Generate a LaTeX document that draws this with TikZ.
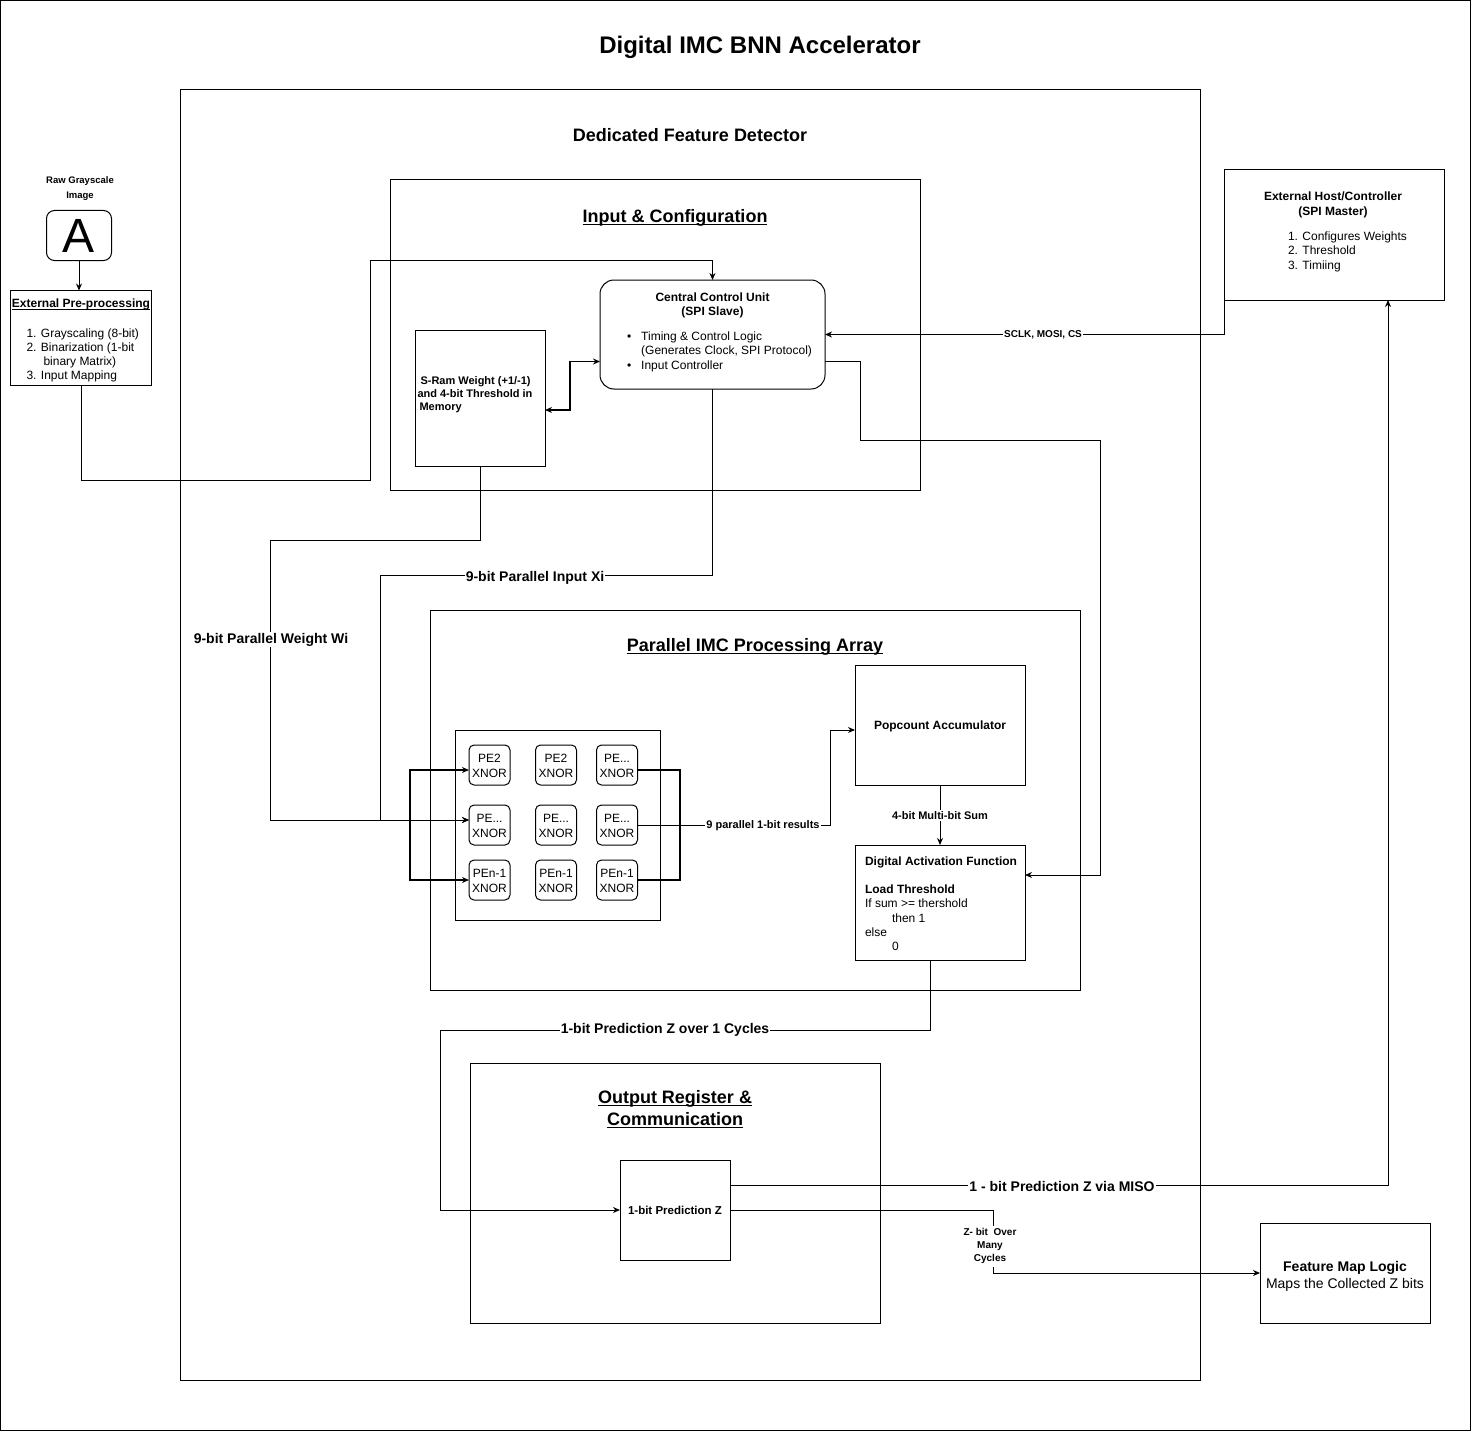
\documentclass[tikz,border=0pt]{standalone}
\usepackage{fontspec}
\setmainfont{Liberation Sans}
\usetikzlibrary{arrows.meta}
\newcommand{\fz}[2]{\fontsize{#1}{#2}\selectfont}
\newcommand{\tl}[1]{\begin{tabular}[t]{@{}l@{}}#1\end{tabular}}
\newcommand{\tc}[1]{\begin{tabular}[t]{@{}c@{}}#1\end{tabular}}
\newcommand{\pet}[1]{\raisebox{-2pt}[\height][\depth]{\tc{#1}}}
\newcommand{\myul}[1]{\setbox0=\hbox{#1}\rlap{\rule[-0.16em]{\wd0}{0.075em}}\box0}
\begin{document}
\begin{tikzpicture}[x=1pt,y=-1pt,
  font=\fz{12}{14.4},
  every node/.style={inner sep=0pt, outer sep=0pt},
  box/.style={draw, line width=1pt, anchor=north west},
  rbox/.style={box, rounded corners=#1},
  pe/.style={draw, line width=1pt, rounded corners=5pt, minimum width=41pt, minimum height=40pt, font=\fz{12}{15}},
  tip/.style={-{Stealth[length=7pt,width=6pt]}},
  arr/.style={line width=1pt, tip},
  conn/.style={line width=1pt},
  thk/.style={line width=2pt},
  lbl/.style={fill=white, font=\bfseries\fz{14}{16.8}, inner xsep=1pt, inner ysep=1pt},
  lblm/.style={lbl, font=\bfseries\fz{11}{13.2}},
  lbls/.style={lbl, font=\bfseries\fz{10}{13}}]
\useasboundingbox (0,0) rectangle (1471,1431);
\node[box, minimum width=1470pt, minimum height=1430pt] (frame) at (0.5,0.5) {};
\node[anchor=base, font=\bfseries\fz{24}{28.8}] (title) at (760,53.6) {Digital IMC BNN Accelerator};

% Dedicated feature detector
\node[box, minimum width=1020pt, minimum height=1290pt] (dfd) at (180,90) {};
\node[anchor=base, font=\bfseries\fz{18}{21.6}] (dfdt) at (690,141.4) {Dedicated Feature Detector};

% Input & configuration
\node[box, minimum width=530pt, minimum height=310pt] (inc) at (390,180) {};
\node[anchor=base, font=\bfseries\fz{18}{21.6}] (inct) at (675,222.4) {\myul{Input \& Configuration}};
\node[rbox=14pt, minimum width=225pt, minimum height=109pt] (ccu) at (600,280) {};
\node[anchor=base, font=\bfseries\fz{12}{14.7}] (ccut) at (712.5,301) {\tc{Central Control Unit\\(SPI Slave)}};
\node[anchor=base west, font=\fz{12}{14.5}] (ccub) at (627,340.3) {\begin{tabular}[t]{@{}l@{\hspace{10pt}}l@{}}\textbullet & Timing \& Control Logic\\ & (Generates Clock, SPI Protocol)\\ \textbullet & Input Controller\end{tabular}};
\node[box, minimum width=130pt, minimum height=136pt] (sram) at (415,330) {};
\node[anchor=base west, font=\bfseries\fz{11}{13.3}] (sramt) at (417.5,384) {\tl{\hspace*{3pt}S-Ram Weight (+1/-1)\\and 4-bit Threshold in\\\hspace*{2pt}Memory}};

% Raw image and pre-processing
\node[anchor=base, font=\bfseries\fz{9.5}{15}] (rawt) at (80,183.4) {\tc{Raw Grayscale\\Image}};
\node[rbox=8pt, minimum width=65pt, minimum height=50pt, font=\fz{48}{50}] (abox) at (46.5,210.5) {A};
\node[box, minimum width=141pt, minimum height=95pt] (pre) at (10.5,290.5) {};
\node[anchor=base, font=\bfseries\fz{12}{14.4}] (pret) at (81,307.6) {\myul{External Pre-processing}};
\node[anchor=base west, font=\fz{12}{14}] (prel) at (26.5,337.6) {\tl{1. Grayscaling (8-bit)\\2. Binarization (1-bit\\\hspace*{17pt}binary Matrix)\\3. Input Mapping}};

% External host
\node[box, minimum width=220pt, minimum height=130pt] (host) at (1224,170) {};
\node[anchor=base, font=\bfseries\fz{12}{15}] (hostt) at (1333,201) {\tc{External Host/Controller\\(SPI Master)}};
\node[anchor=base west, font=\fz{12}{14.5}] (hostl) at (1288,240.3) {\tl{1. Configures Weights\\2. Threshold\\3. Timiing}};

% Parallel IMC processing array
\node[box, minimum width=650pt, minimum height=380pt] (pipa) at (430,610) {};
\node[anchor=base, font=\bfseries\fz{18}{21.6}] (pipat) at (755,651.4) {\myul{Parallel IMC Processing Array}};
\node[box, minimum width=205pt, minimum height=190pt] (pec) at (455,730) {};
\node[pe] (pe11) at (489.5,765) {\pet{PE2\\XNOR}};
\node[pe] (pe12) at (556,765) {\pet{PE2\\XNOR}};
\node[pe] (pe13) at (617,765) {\pet{PE...\\XNOR}};
\node[pe] (pe21) at (489.5,825) {\pet{PE...\\XNOR}};
\node[pe] (pe22) at (556,825) {\pet{PE...\\XNOR}};
\node[pe] (pe23) at (617,825) {\pet{PE...\\XNOR}};
\node[pe] (pe31) at (489.5,880) {\pet{PEn-1\\XNOR}};
\node[pe] (pe32) at (556,880) {\pet{PEn-1\\XNOR}};
\node[pe] (pe33) at (617,880) {\pet{PEn-1\\XNOR}};
\node[box, minimum width=170pt, minimum height=120pt, font=\bfseries\fz{12}{14.4}] (popc) at (855,665) {\raisebox{-1.5pt}[\height][\depth]{Popcount Accumulator}};
\node[box, minimum width=170pt, minimum height=115pt] (daf) at (855,845) {};
\node[anchor=base west, font=\fz{12}{14.33}] (daft) at (865,865) {\tl{\textbf{Digital Activation Function}\\ \\ \textbf{Load Threshold}\\If sum >= thershold\\\hspace*{27pt}then 1\\else\\\hspace*{27pt}0}};

% Output register
\node[box, minimum width=410pt, minimum height=260pt] (outr) at (470,1063) {};
\node[anchor=base, font=\bfseries\fz{18}{21.6}] (outrt) at (675,1103.4) {\tc{\myul{Output Register \&}\\\myul{Communication}}};
\node[box, minimum width=110pt, minimum height=100pt, font=\bfseries\fz{11.5}{14}] (pz) at (620,1160) {1-bit Prediction Z};

% Feature map logic
\node[box, minimum width=170pt, minimum height=100pt] (fml) at (1260,1223) {};
\node[anchor=base, font=\fz{14}{17}] (fmlt) at (1345,1271) {\tc{\textbf{Feature Map Logic}\\Maps the Collected Z bits}};

% Connectors
\draw[arr] (abox.south) -- (abox.south |- pre.north);
\draw[arr] (pre.south) |- (370,480) -- (370,260) -| (ccu.north);
\draw[arr] (host.south west) |- (ccu.east);
\draw[arr] ([yshift=-27pt]ccu.east) -- (860,361.5) -- (860,440) -- (1100,440) |- ([yshift=-30pt]daf.north east);
\draw[line width=1.5pt, {Stealth[length=7pt,width=6pt]}-{Stealth[length=7pt,width=6pt]}] ([yshift=-27pt]ccu.west) -- (570,361.5) |- ([yshift=-12pt]sram.east);
\draw[arr] (sram.south) -- (480,540) -- (270,540) |- ([yshift=5pt]pe21.west);
\draw[arr] (ccu.south) -- (712.5,575) -- (380,575) |- ([yshift=5pt]pe21.west);
\draw[thk, {Stealth[length=7pt,width=6pt]}-{Stealth[length=7pt,width=6pt]}] ([yshift=-5pt]pe11.west) -| (410,825) |- (pe31.west);
\draw[thk] ([yshift=-5pt]pe13.east) -| (680,825) |- (pe33.east);
\draw[arr] (pe23.east) -- (830,825) |- ([yshift=-5pt]popc.west);
\draw[arr] (popc.south) -- (daf.north);
\draw[arr] ([xshift=-10pt]daf.south) -- (930,1030) -- (440,1030) |- (pz.west);
\draw[arr] ([yshift=25pt]pz.east) -| ([xshift=54pt]host.south);
\draw[arr] (pz.east) -- (993,1210) |- (fml.west);

% Connector labels
\node[lbls] (lsclk) at (1043,335) {SCLK, MOSI, CS};
\node[lbl] (lw) at (271,639.5) {9-bit Parallel Weight Wi};
\node[lbl] (lx) at (535,577.5) {9-bit Parallel Input Xi};
\node[lblm] (lres) at (763,826) {9 parallel 1-bit results};
\node[lblm] (lsum) at (940,815.5) {4-bit Multi-bit Sum};
\node[lbl] (lpz) at (665,1030) {1-bit Prediction Z over 1 Cycles\ };
\node[lbl] (lmiso) at (1062,1186) {1 - bit Prediction Z via MISO};
\node[lbls, anchor=base] (lzb) at (990,1235.6) {\tc{Z- bit\ \ Over\\Many\\Cycles}};
\end{tikzpicture}
\end{document}
